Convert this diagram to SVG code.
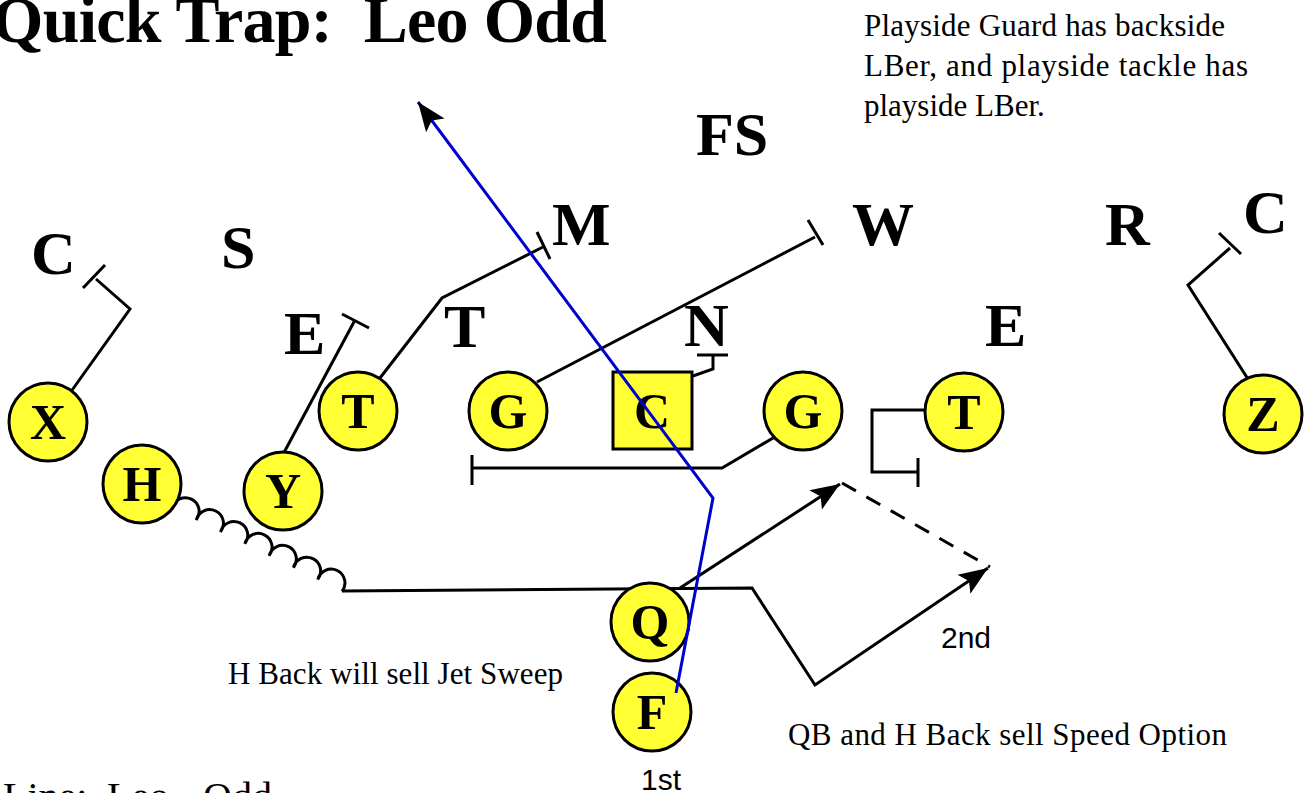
<svg xmlns="http://www.w3.org/2000/svg" width="1310" height="793" viewBox="0 0 1310 793">
<style>
.title{font-family:"Liberation Serif",serif;font-weight:bold;font-size:66px;fill:#000}
.def{font-family:"Liberation Serif",serif;font-weight:bold;font-size:62px;fill:#000}
.pl{font-family:"Liberation Serif",serif;font-weight:bold;font-size:50px;fill:#000;text-anchor:middle}
.note{font-family:"Liberation Serif",serif;font-size:31px;fill:#000}
.sans{font-family:"Liberation Sans",sans-serif;font-size:30px;fill:#000}
.bot{font-family:"Liberation Serif",serif;font-size:40px;fill:#000}
.player{fill:#FFFF33;stroke:#000;stroke-width:3}
.blk{fill:none;stroke:#000;stroke-width:3;stroke-linejoin:miter}
.blue{fill:none;stroke:#0000CC;stroke-width:3}
.dash{fill:none;stroke:#000;stroke-width:3;stroke-dasharray:16,12}
</style>
<defs>
<marker id="ah" markerUnits="userSpaceOnUse" viewBox="-30 -12 31 24" refX="0" refY="0" markerWidth="31" markerHeight="24" orient="auto">
<path d="M0,0 L-29,-11.5 L-23,0 L-29,11.5 Z" fill="#000"/>
</marker>
</defs>
<rect width="1310" height="793" fill="#fff"/>

<text class="title" x="-8" y="42" textLength="615" lengthAdjust="spacing" xml:space="preserve">Quick Trap:  Leo Odd</text>
<text class="note" x="864" y="36" textLength="361" lengthAdjust="spacing">Playside Guard has backside</text>
<text class="note" x="864" y="76" textLength="384" lengthAdjust="spacing">LBer, and playside tackle has</text>
<text class="note" x="864" y="116">playside LBer.</text>

<g id="defense">
<text class="def" x="696" y="155">FS</text>
<text class="def" x="552" y="245">M</text>
<text class="def" x="852" y="245">W</text>
<text class="def" x="1105" y="245">R</text>
<text class="def" x="1243" y="233">C</text>
<text class="def" x="31" y="274">C</text>
<text class="def" x="221" y="268">S</text>
<text class="def" x="284" y="354">E</text>
<text class="def" x="444" y="347">T</text>
<text class="def" x="684" y="346">N</text>
<text class="def" x="985" y="346">E</text>
</g>

<g id="connectors">
<path class="blk" d="M70,393 L130,309 L96,279"/>
<path class="blk" d="M83,288 L105,265"/>
<path class="blk" d="M280,460 L355,320"/>
<path class="blk" d="M342,314 L369,328"/>
<path class="blk" d="M373,387 L442,298 L543,247"/>
<path class="blk" d="M537,232 L550,259"/>
<path class="blk" d="M537,382 L815,237"/>
<path class="blk" d="M808,220 L823,245"/>
<path class="blk" d="M676,382 L713,369 L713,355"/>
<path class="blk" d="M697,355 L728,355"/>
<path class="blk" d="M785,431 L722,468 L472,468"/>
<path class="blk" d="M472,455 L472,485"/>
<path class="blk" d="M948,410 L872,410 L872,472 L918,472"/>
<path class="blk" d="M918,458 L918,487"/>
<path class="blk" d="M1255,390 L1188,285 L1230,248"/>
<path class="blk" d="M1219,233 L1241,254"/>
<path class="blk" d="M172,508 a13.8,13.8 0 1 1 24.3,11.9 a13.8,13.8 0 1 1 24.3,11.9 a13.8,13.8 0 1 1 24.3,11.9 a13.8,13.8 0 1 1 24.3,11.9 a13.8,13.8 0 1 1 24.3,11.9 a13.8,13.8 0 1 1 24.3,11.9 a13.8,13.8 0 1 1 24.3,11.9"/>
<path class="blk" d="M342,591 L752,588 L815,685 L988,568" marker-end="url(#ah)"/>
<path class="blk" d="M680,588 L840,484" marker-end="url(#ah)"/>
<path class="dash" d="M842,483 L990,567"/>
</g>

<g id="X"><circle class="player" cx="48" cy="422" r="39"/><text class="pl" x="48" y="439">X</text></g>
<g id="H"><circle class="player" cx="142" cy="484" r="39"/><text class="pl" x="142" y="501">H</text></g>
<g id="Y"><circle class="player" cx="283" cy="491" r="39"/><text class="pl" x="283" y="508">Y</text></g>
<g id="LT"><circle class="player" cx="358" cy="411" r="39"/><text class="pl" x="358" y="428">T</text></g>
<g id="LG"><circle class="player" cx="508" cy="411" r="39"/><text class="pl" x="508" y="428">G</text></g>
<g id="C"><rect class="player" x="613" y="372" width="79" height="77"/><text class="pl" x="652" y="428">C</text></g>
<g id="RG"><circle class="player" cx="803" cy="411" r="39"/><text class="pl" x="803" y="428">G</text></g>
<g id="RT"><circle class="player" cx="964" cy="412" r="39"/><text class="pl" x="964" y="429">T</text></g>
<g id="Z"><circle class="player" cx="1263" cy="414" r="39"/><text class="pl" x="1263" y="431">Z</text></g>
<g id="Q"><circle class="player" cx="650" cy="622" r="39"/><text class="pl" x="650" y="639">Q</text></g>
<g id="F"><circle class="player" cx="652" cy="712" r="39"/><text class="pl" x="652" y="729">F</text></g>

<g id="fb-path">
<path class="blue" d="M676,693 L713,498 L418,102" marker-end="url(#ah)"/>
</g>

<text class="note" x="228" y="684" textLength="335" lengthAdjust="spacing">H Back will sell Jet Sweep</text>
<text class="note" x="788" y="745" textLength="439" lengthAdjust="spacing">QB and H Back sell Speed Option</text>
<text class="sans" x="941" y="648">2nd</text>
<text class="sans" x="641" y="790">1st</text>
<text class="bot" y="810"><tspan x="3">Line:</tspan><tspan x="107">Leo</tspan><tspan x="203">Odd</tspan></text>
</svg>
